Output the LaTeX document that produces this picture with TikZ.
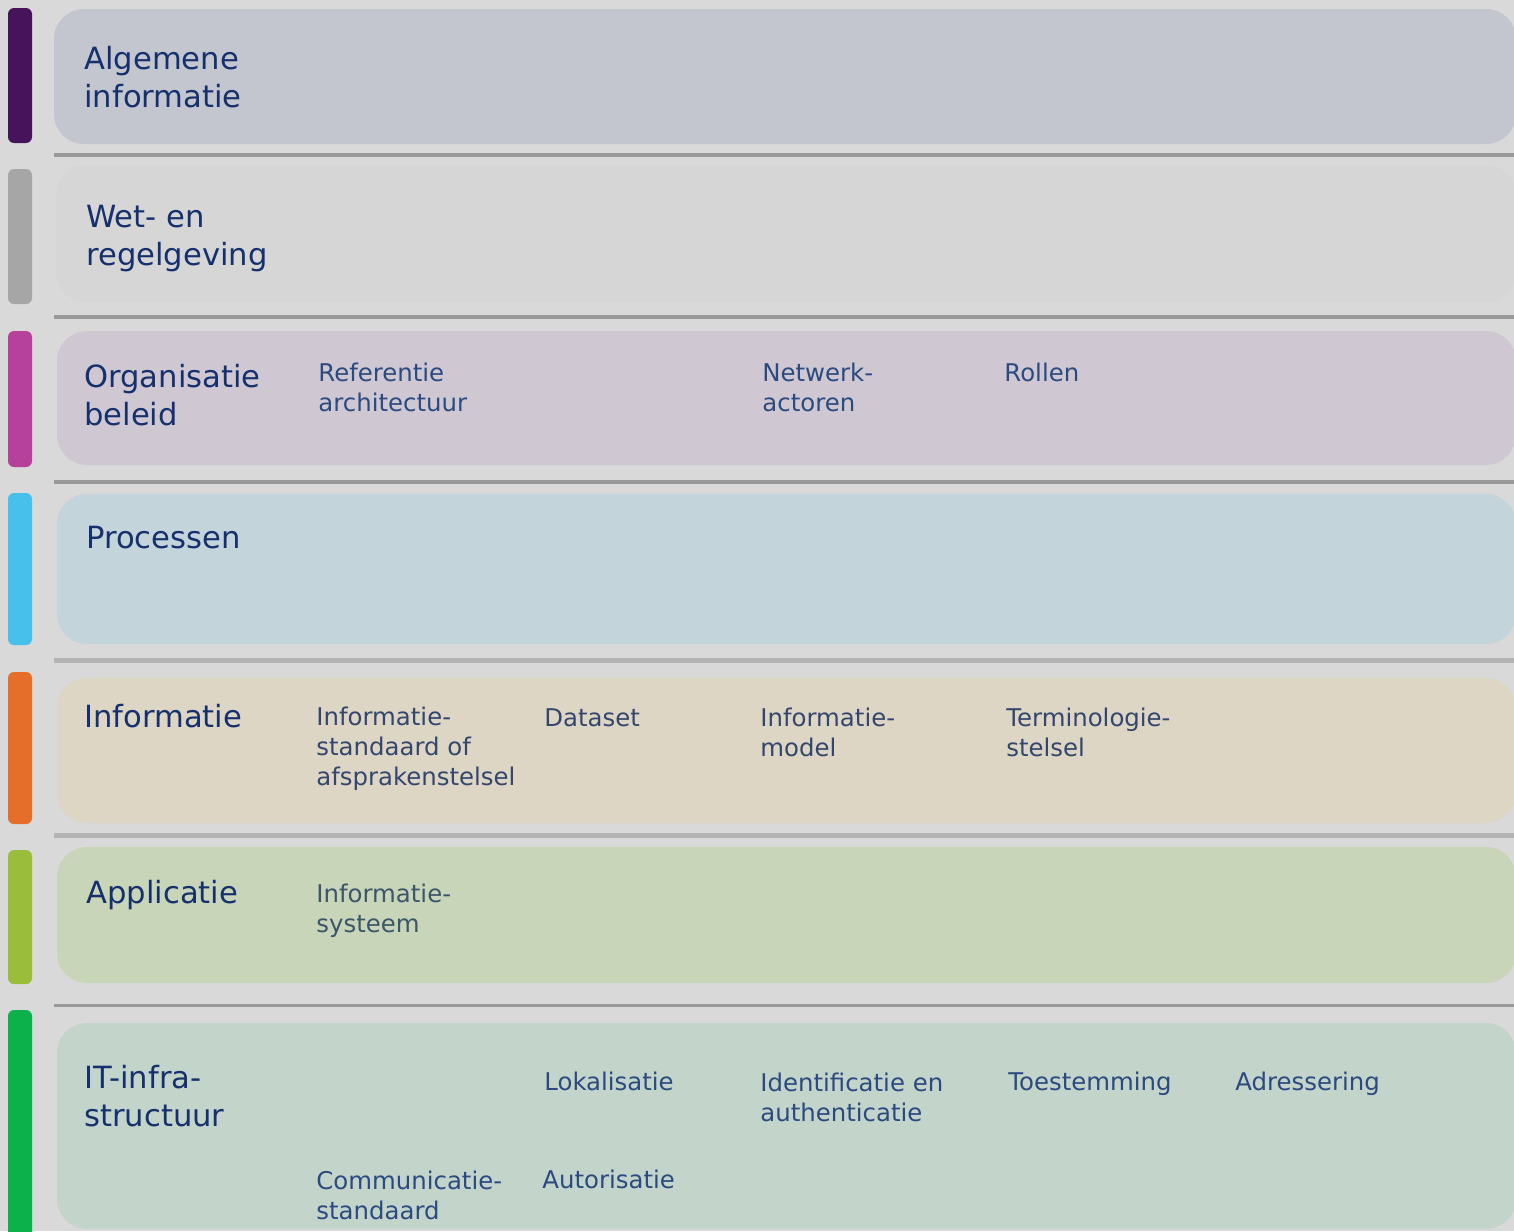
\documentclass[tikz,border=0pt]{standalone}
\usepackage{fontspec}
\setmainfont{DejaVu Sans}
\definecolor{bgc}{HTML}{D9D9D9}
\definecolor{sepdark}{HTML}{999999}
\definecolor{seplight}{HTML}{B3B3B3}
\definecolor{barA}{HTML}{45145A}
\definecolor{barB}{HTML}{A6A6A6}
\definecolor{barC}{HTML}{B5419A}
\definecolor{barD}{HTML}{47C0EC}
\definecolor{barE}{HTML}{E56F2A}
\definecolor{barF}{HTML}{9ABD3C}
\definecolor{barG}{HTML}{0DB14B}
\definecolor{panA}{HTML}{C3C6CE}
\definecolor{panB}{HTML}{D6D6D6}
\definecolor{panC}{HTML}{CFC8D3}
\definecolor{panD}{HTML}{C3D4DB}
\definecolor{panE}{HTML}{DDD6C4}
\definecolor{panF}{HTML}{C8D5B8}
\definecolor{panG}{HTML}{C3D4CA}
\definecolor{txtmain}{HTML}{15306C}
\definecolor{txtsub}{HTML}{2B4A80}
\definecolor{txtsubE}{HTML}{34466E}
\definecolor{txtsubF}{HTML}{3B5668}
\tikzset{
  barbox/.style={rounded corners=3},
  panelbox/.style={rounded corners=15},
  sepline/.style={line width=2pt, draw=sepdark},
  mainlabel/.style={anchor=base west, inner sep=0pt, align=left, text=txtmain,
    font=\fontsize{15.3}{19}\selectfont},
  sublabel/.style={anchor=base west, inner sep=0pt, align=left, text=txtsub,
    font=\fontsize{12.2}{15}\selectfont},
}
\begin{document}
\begin{tikzpicture}[x=0.5pt,y=-0.5pt]
\useasboundingbox (0,0) rectangle (1514,1231);
\clip (0,0) rectangle (1514,1231);
\fill[bgc] (0,0) rectangle (1514,1231);
% bars
\fill[barA,barbox] (8,8) rectangle (32,143);
\fill[barB,barbox] (8,169) rectangle (32,304);
\fill[barC,barbox] (8,331) rectangle (32,467);
\fill[barD,barbox] (8,493) rectangle (32,645);
\fill[barE,barbox] (8,672) rectangle (32,824);
\fill[barF,barbox] (8,850) rectangle (32,984);
\fill[barG,barbox] (8,1010) rectangle (32,1245);
% panels
\fill[panA,panelbox] (54,9) rectangle (1516,144);
\fill[panB,panelbox] (56,165) rectangle (1516,302);
\fill[panC,panelbox] (57,331) rectangle (1516,465);
\fill[panD,panelbox] (57,494) rectangle (1516,644);
\fill[panE,panelbox] (57,678) rectangle (1516,823);
\fill[panF,panelbox] (57,847) rectangle (1516,983);
\fill[panG,panelbox] (57,1023) rectangle (1516,1229);
% separators
\draw[sepline] (54,155) -- (1514,155);
\draw[sepline] (54,316.5) -- (1514,316.5);
\draw[sepline] (54,481.5) -- (1514,481.5);
\draw[sepline, draw=seplight, line width=2.5pt] (54,660.5) -- (1514,660.5);
\draw[sepline, draw=seplight, line width=2.5pt] (54,835.5) -- (1514,835.5);
\draw[sepline, line width=1.5pt] (54,1005.5) -- (1514,1005.5);
% main labels (base anchor = baseline of last line)
\node[mainlabel] (alg) at (84,107) {Algemene\\informatie};
\node[mainlabel] (wet) at (86,265) {Wet- en\\regelgeving};
\node[mainlabel] (org) at (84,425) {Organisatie\\beleid};
\node[mainlabel] (pro) at (86,548) {Processen};
\node[mainlabel] (inf) at (84,727) {Informatie};
\node[mainlabel] (app) at (86,903) {Applicatie};
\node[mainlabel] (itinf) at (84,1126) {IT-infra-\\structuur};
% organisatie items
\node[sublabel] (refarch) at (318,411) {Referentie\\architectuur};
\node[sublabel] (netw) at (762,411) {Netwerk-\\actoren};
\node[sublabel] (rollen) at (1004,381) {Rollen};
% informatie items
\node[sublabel, text=txtsubE] (infstd) at (316,785) {Informatie-\\standaard of\\afsprakenstelsel};
\node[sublabel, text=txtsubE] (dataset) at (544,726) {Dataset};
\node[sublabel, text=txtsubE] (infmod) at (760,756) {Informatie-\\model};
\node[sublabel, text=txtsubE] (term) at (1006,756) {Terminologie-\\stelsel};
% applicatie items
\node[sublabel, text=txtsubF] (infsys) at (316,932) {Informatie-\\systeem};
% IT items
\node[sublabel] (lok) at (544,1090) {Lokalisatie};
\node[sublabel] (ident) at (760,1121) {Identificatie en\\authenticatie};
\node[sublabel] (toest) at (1008,1090) {Toestemming};
\node[sublabel] (adres) at (1235,1090) {Adressering};
\node[sublabel] (comm) at (316,1219) {Communicatie-\\standaard};
\node[sublabel] (autor) at (542,1188) {Autorisatie};
\end{tikzpicture}
\end{document}
